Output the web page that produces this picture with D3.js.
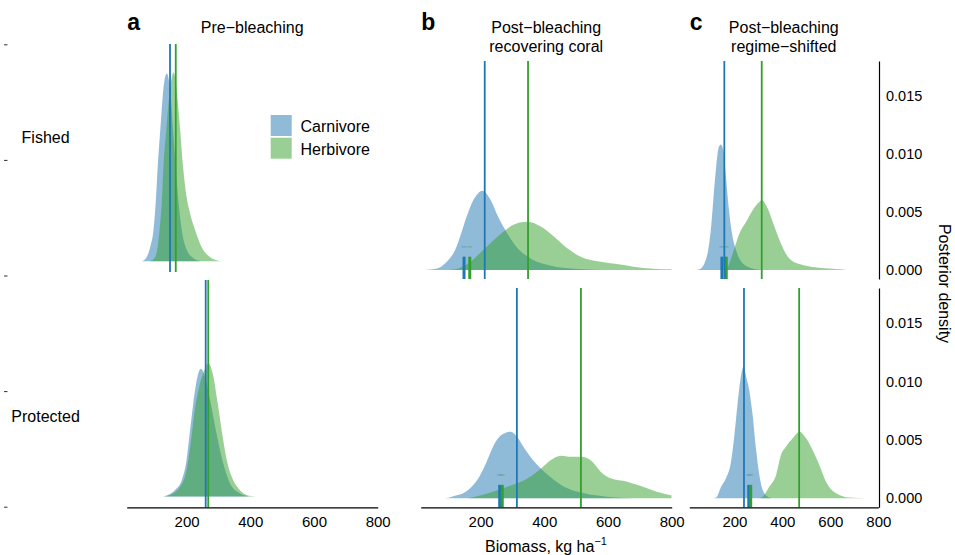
<!DOCTYPE html>
<html>
<head>
<meta charset="utf-8">
<script src="https://cdn.jsdelivr.net/npm/d3@7"></script>
<style>
  body { margin: 0; background: #fff; }
  svg { font-family: "Liberation Sans", Arial, Helvetica, sans-serif; }
</style>
</head>
<body>
<svg id="chart" width="955" height="555"></svg>
<script>
// posterior densities: [biomass kg/ha, density x 1000]
const preFishedCarn = [[60,0],[75,0.37],[86,1.23],[96,2.66],[103,5.0],[110,8.4],[118,11.5],[125,14.1],[131,15.6],[138,16.1],[144,15.6],[150,14.3],[157,11.5],[165,8.4],[175,5.0],[185,2.66],[200,1.0],[220,0.3],[245,0]];
const preFishedHerb = [[85,0],[100,0.3],[108,1.0],[115,2.66],[122,5.0],[128,8.4],[137,11.5],[145,14.1],[152,15.6],[159,16.2],[165,15.6],[171,14.1],[180,11.25],[188,8.4],[200,5.53],[211,4.1],[227,2.66],[247,1.23],[273,0.37],[294,0.09],[310,0]];
const preProtCarn = [[120,0],[133,0.06],[164,0.57],[185,1.43],[200,3.15],[211,5.73],[221,8.02],[234,10.3],[245,11.0],[258,10.3],[274,8.3],[294,5.44],[315,2.86],[336,1.15],[367,0.29],[400,0]];
const preProtHerb = [[130,0],[148,0.14],[180,0.86],[200,2.3],[214,4.8],[226,7.5],[240,9.5],[255,10.8],[268,11.5],[282,10.6],[298,8.0],[313,5.2],[329,2.8],[346,1.43],[367,0.57],[388,0.14],[420,0]];

const recFishedCarn = [[21,0],[50,0.06],[76,0.29],[99,0.86],[120,1.72],[139,3.15],[156,4.58],[177,6.01],[192,6.6],[205,6.82],[218,6.6],[232,6.01],[255,4.58],[284,3.15],[317,1.86],[348,1.15],[421,0.37],[494,0.11],[577,0]];
const recFishedHerb = [[100,0],[120,0.06],[161,0.57],[213,1.86],[265,3.15],[307,3.95],[348,4.15],[390,3.72],[431,2.86],[473,1.86],[514,1.15],[577,0.72],[628,0.52],[680,0.29],[743,0.11],[800,0.06]];
const recProtCarn = [[89,0],[110,0.14],[161,0.71],[193,1.71],[219,3.13],[239,4.42],[265,5.41],[294,5.70],[312,5.36],[338,4.27],[369,3.13],[400,2.28],[431,1.57],[473,0.85],[525,0.43],[597,0.14],[680,0]];
const recProtHerb = [[161,0],[224,0.43],[286,1.0],[348,1.71],[390,2.56],[421,3.28],[452,3.65],[483,3.56],[520,3.56],[551,3.13],[577,2.28],[608,1.71],[660,1.42],[701,1.08],[753,0.57],[800,0.23]];

const shiftFishedCarn = [[40,0],[54,0.06],[75,0.57],[93,2.0],[103,3.72],[112,6.01],[124,8.88],[135,10.6],[144,10.82],[154,10.3],[165,8.0],[176,5.44],[190,3.15],[207,1.72],[235,0.57],[276,0.14],[318,0]];
const shiftFishedHerb = [[130,0],[165,0.06],[193,1.43],[221,3.15],[249,4.15],[276,5.15],[304,5.87],[315,6.01],[339,5.30],[367,3.72],[394,2.29],[429,1.0],[485,0.43],[554,0.2],[638,0.06],[665,0]];
const shiftProtCarn = [[110,0],[124,0.06],[145,1.0],[165,1.71],[186,3.13],[200,5.41],[214,8.26],[228,10.54],[238,11.25],[249,10.4],[263,9.12],[276,7.12],[290,4.27],[304,2.0],[318,0.71],[339,0.14],[360,0]];
const shiftProtHerb = [[300,0],[318,0.14],[346,1.0],[374,2.0],[394,3.70],[415,4.42],[443,5.13],[471,5.70],[499,5.13],[526,4.13],[554,2.85],[582,1.42],[624,0.43],[679,0.06],[749,0]];

// posterior means [carnivore, herbivore] for panels a, b, c
const fishedMeans = [[148,166],[213,349],[158,314]];
const protectedMeans = [[260,268],[314,515],[240,470]];

const groups = ["Carnivore", "Herbivore"];
const rowLabels = ["Fished", "Protected"];
const panelLetters = ["a", "b", "c"];
const panelTitles = [["Pre\u2212bleaching"], ["Post\u2212bleaching", "recovering coral"], ["Post\u2212bleaching", "regime\u2212shifted"]];
const xTicks = [200, 400, 600, 800];
const yTicks = [0, 0.005, 0.010, 0.015];
const leftTicks = [0, 1, 2, 3, 4];

const colors = ["#1f78b4", "#33a02c"];

const svg = d3.select("#chart");

// panel layout
const panelX = [[126.7, 377.7], [420.7, 671.7], [689.3, 878.3]];
const rowYa = [[272, 44], [507.3, 280]];
const rowYbc = [[279, 61], [507.3, 288]];

const curves = [
  [[preFishedCarn, preFishedHerb], [recFishedCarn, recFishedHerb], [shiftFishedCarn, shiftFishedHerb]],
  [[preProtCarn, preProtHerb], [recProtCarn, recProtHerb], [shiftProtCarn, shiftProtHerb]]
];
const means = [fishedMeans, protectedMeans];

const xScales = panelX.map(r => d3.scaleLinear().domain([12, 800]).range(r));

function yScale(row, p) {
  if (p === 0) return d3.scaleLinear().domain([-0.00092, 0.01864]).range(rowYa[row]);
  return d3.scaleLinear().domain([-0.00077, 0.018]).range(rowYbc[row]);
}

for (let row = 0; row < 2; row++) {
  for (let p = 0; p < 3; p++) {
    const x = xScales[p];
    const y = yScale(row, p);
    const g = svg.append("g");
    const clipId = `clip-${row}-${p}`;
    svg.append("clipPath").attr("id", clipId)
      .append("rect")
      .attr("x", panelX[p][0]).attr("y", y.range()[1])
      .attr("width", panelX[p][1] - panelX[p][0])
      .attr("height", y.range()[0] - y.range()[1]);

    const area = d3.area()
      .x(d => x(d[0]))
      .y0(y(0))
      .y1(d => y(d[1] / 1000))
      .curve(d3.curveMonotoneX);

    curves[row][p].forEach((c, i) => {
      g.append("path")
        .attr("clip-path", `url(#${clipId})`)
        .attr("d", area(c))
        .attr("fill", colors[i])
        .attr("fill-opacity", 0.5);
    });

    // pre-bleaching reference marks in b and c
    if (p > 0) {
      means[row][0].forEach((m, i) => {
        g.append("line")
          .attr("x1", x(m) - 2.5).attr("x2", x(m) + 2.5)
          .attr("y1", y(0.002)).attr("y2", y(0.002))
          .attr("stroke", colors[i]).attr("stroke-opacity", 0.3)
          .attr("stroke-width", 1.5);
        g.append("rect")
          .attr("x", x(m) - 1.5).attr("width", 3)
          .attr("y", y(0.00115))
          .attr("height", y.range()[0] - y(0.00115))
          .attr("fill", colors[i]);
      });
    }

    // posterior mean lines
    means[row][p].forEach((m, i) => {
      g.append("line")
        .attr("x1", x(m)).attr("x2", x(m))
        .attr("y1", y.range()[1]).attr("y2", y.range()[0])
        .attr("stroke", colors[i])
        .attr("stroke-width", 1.8);
    });

    if (row === 1) {
      const ax = svg.append("g")
        .attr("transform", `translate(0,${y.range()[0]})`)
        .call(d3.axisBottom(x).tickValues(xTicks).tickSize(0).tickPadding(9).tickSizeOuter(0));
      ax.select(".domain").attr("stroke", "#000").attr("stroke-width", 1.2);
      ax.selectAll("text").attr("font-size", 15).attr("font-family", null).attr("fill", "#000");
    }

    if (p === 2) {
      const ay = svg.append("g")
        .attr("transform", `translate(${panelX[2][1] + 0.7},0)`)
        .call(d3.axisRight(y).tickValues(yTicks).tickFormat(d3.format(".3f")).tickSize(0).tickPadding(7).tickSizeOuter(0));
      ay.select(".domain").attr("stroke", "#000").attr("stroke-width", 1.2);
      ay.selectAll("text").attr("font-size", 14.5).attr("font-family", null).attr("fill", "#000");
    }
  }
}

// left-hand ticks
const yLeft = d3.scaleLinear().domain([0, 4]).range([44.3, 506.7]);
const al = svg.append("g").attr("transform", "translate(7.5,0)")
  .call(d3.axisLeft(yLeft).tickValues(leftTicks).tickSize(3.5).tickFormat(""));
al.select(".domain").remove();
al.selectAll("line").attr("stroke", "#333");

// row labels
[142.8, 421.5].forEach((yy, i) => {
  svg.append("text").attr("x", 45.6).attr("y", yy)
    .attr("text-anchor", "middle").attr("font-size", 16)
    .text(rowLabels[i]);
});

// panel letters and titles
panelX.forEach((r, p) => {
  svg.append("text").attr("x", r[0] + 0.5).attr("y", 29.5)
    .attr("font-size", 23).attr("font-weight", "bold")
    .text(panelLetters[p]);
  panelTitles[p].forEach((t, j) => {
    svg.append("text").attr("x", (r[0] + r[1]) / 2).attr("y", 33.3 + j * 18.4)
      .attr("text-anchor", "middle").attr("font-size", 16)
      .text(t);
  });
});

// legend
groups.forEach((gname, i) => {
  svg.append("rect").attr("x", 270.7).attr("y", 115 + i * 22.7)
    .attr("width", 21).attr("height", 21)
    .attr("fill", colors[i]).attr("fill-opacity", 0.5);
  svg.append("text").attr("x", 300.5).attr("y", 132.3 + i * 22.7)
    .attr("font-size", 16).text(gname);
});

// axis titles
const xt = svg.append("text").attr("x", 546).attr("y", 551.7)
  .attr("text-anchor", "middle").attr("font-size", 16);
xt.append("tspan").text("Biomass, kg ha");
xt.append("tspan").attr("dy", -6.5).attr("font-size", 11).text("\u22121");

svg.append("text")
  .attr("transform", "translate(939,283.5) rotate(90)")
  .attr("text-anchor", "middle").attr("font-size", 16)
  .text("Posterior density");
</script>
</body>
</html>
